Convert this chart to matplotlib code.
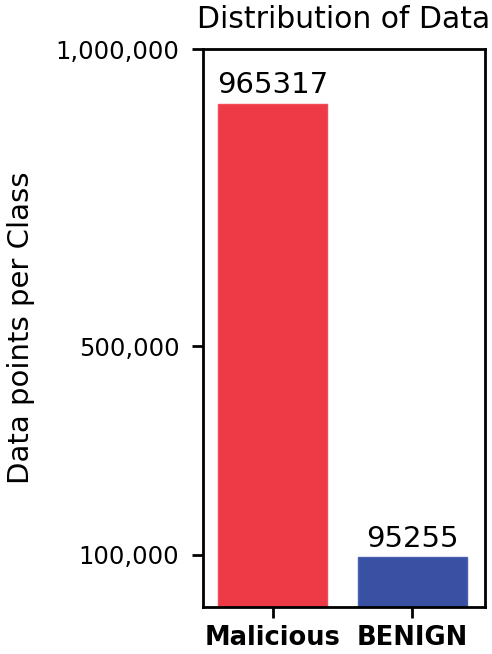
import matplotlib
matplotlib.use("Agg")
import matplotlib.pyplot as plt

# datos
classes = ["Malicious", "BENIGN"]
contagens = [965317, 95255]
cores = ["#EE3A47", "#3A51A3"]
bordas = ["#F24C58", "#4A60B0"]
yticks_pos = [100000, 500000, 1070000]
yticks_txt = ["100,000", "500,000", "1,000,000"]

fig = plt.figure(figsize=(4.92, 6.54), dpi=100)
ax = fig.add_axes([0.4126, 0.0719, 0.5732, 0.8531])

barras = ax.bar(classes, contagens, width=0.78, color=cores, edgecolor=bordas, linewidth=1)

for b, v in zip(barras, contagens):
    ax.text(b.get_x() + b.get_width() / 2, v + 8000, str(v),
            ha="center", va="bottom", fontsize=21)

ax.set_ylim(0, 1070000)
ax.set_xlim(-0.5, 1.52)
ax.set_yticks(yticks_pos)
ax.set_yticklabels(yticks_txt, fontsize=17.5)
ax.set_xticks(range(len(classes)))
ax.set_xticklabels(classes, fontsize=18.5, fontweight="bold")
ax.tick_params(axis="both", width=2, length=8)
ax.tick_params(axis="y", pad=9)
ax.tick_params(axis="x", pad=5)
for s in ax.spines.values():
    s.set_linewidth(2)

ax.set_ylabel("Data points per Class", fontsize=21, labelpad=15)
ax.set_title("Distribution of Data", fontsize=21.5, pad=15)

plt.savefig("out.png", dpi=100)
plt.close()
